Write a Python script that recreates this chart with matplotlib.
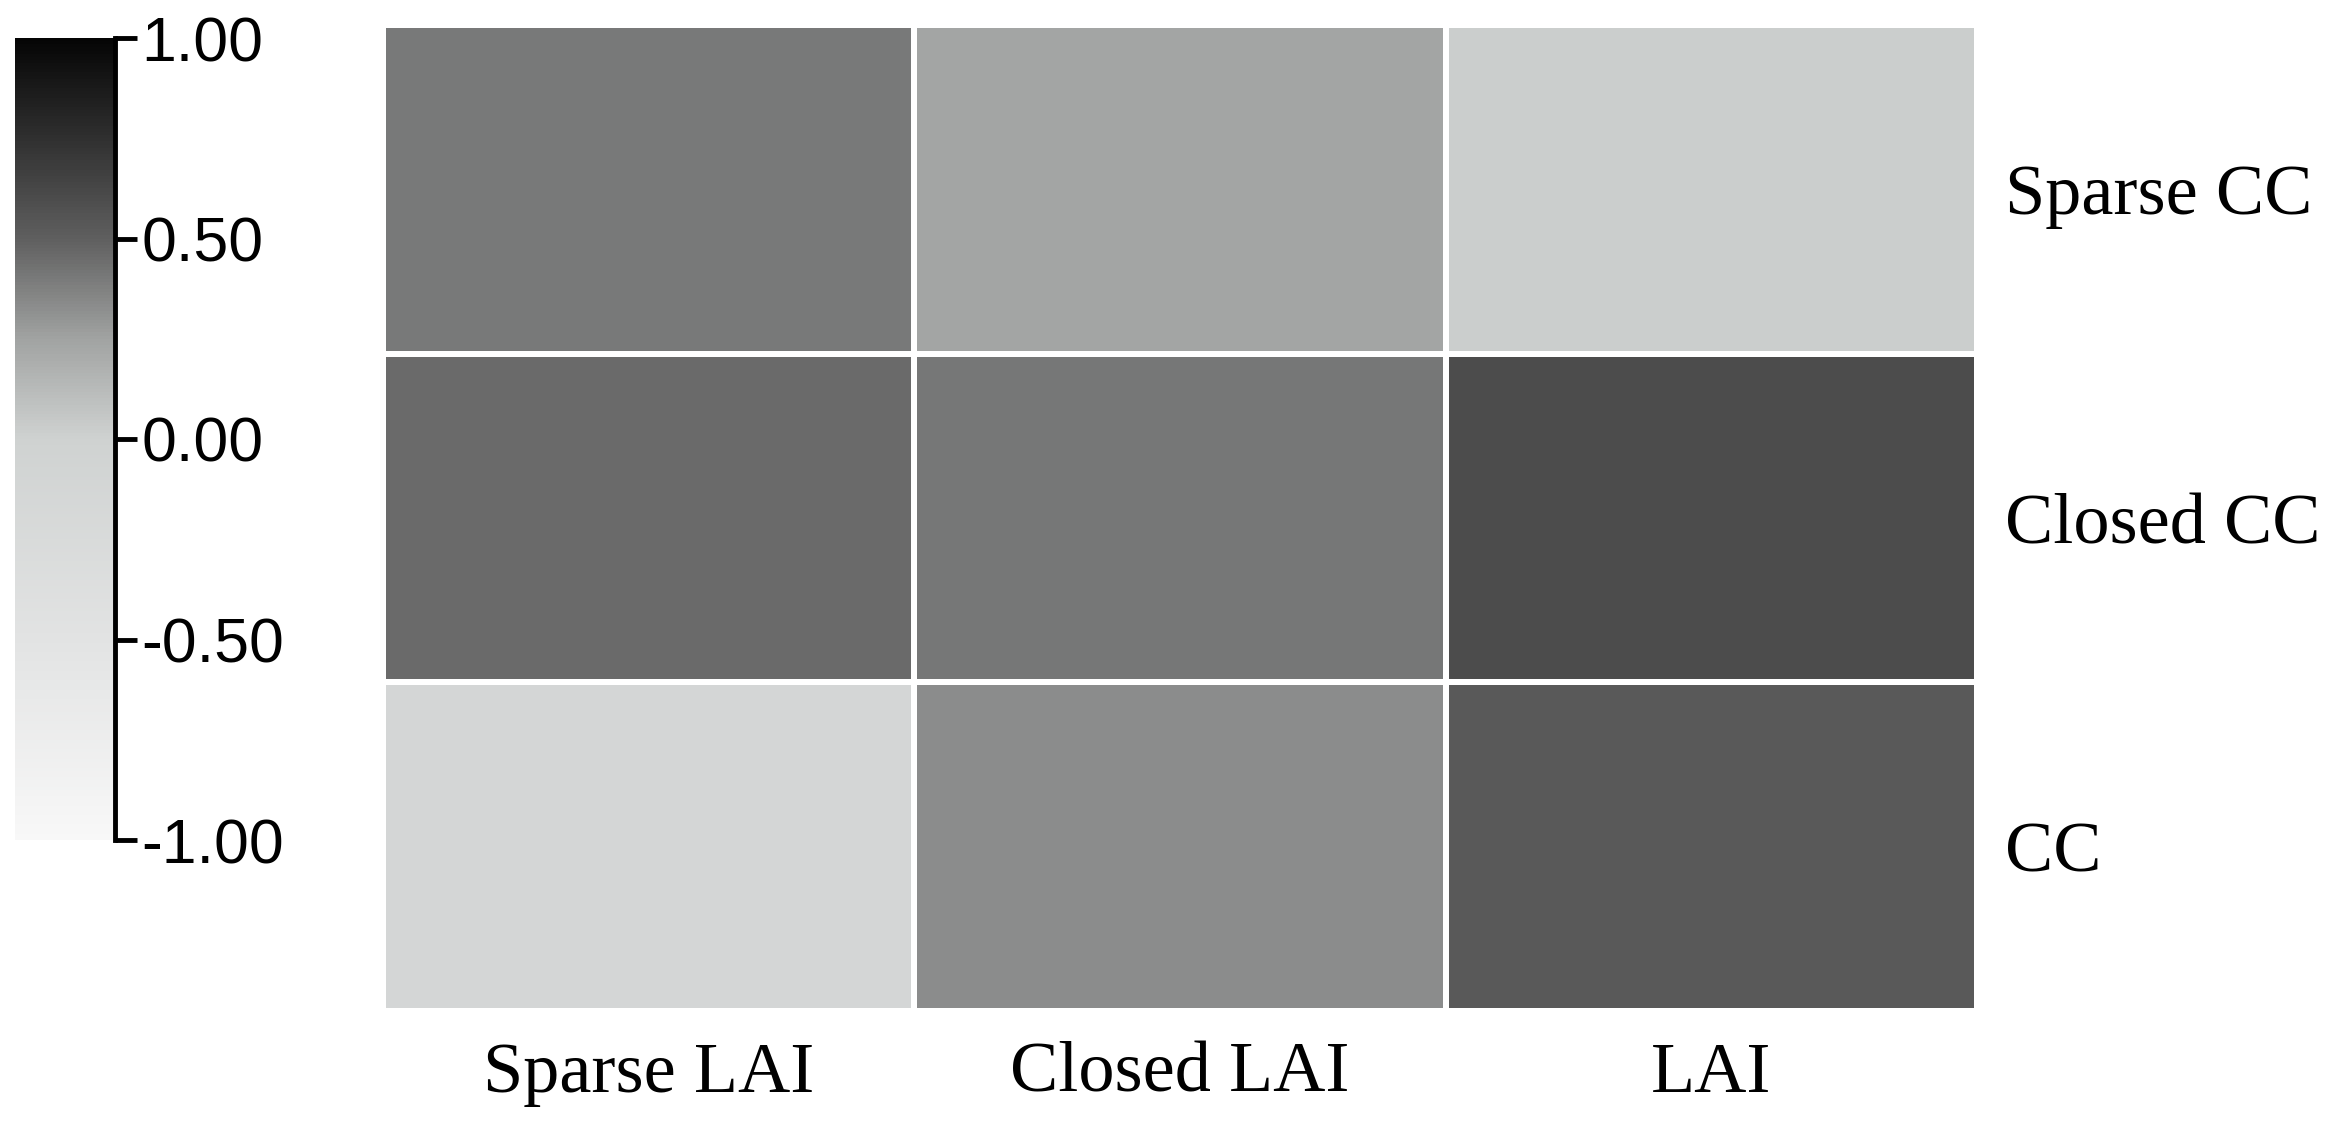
import numpy as np
import matplotlib.pyplot as plt
from matplotlib.colors import LinearSegmentedColormap

# heatmap values
row_labels = ['Sparse CC', 'Closed CC', 'CC']
col_labels = ['Sparse LAI', 'Closed LAI', 'LAI']
sparse_cc = [0.40, 0.24, 0.02]
closed_cc = [0.46, 0.41, 0.60]
cc = [-0.13, 0.33, 0.53]
cbar_ticks = [-1.0, -0.5, 0.0, 0.5, 1.0]

# grey colormap, light at -1, black at +1
cmap = LinearSegmentedColormap.from_list('greys_cc', [
    (0.000, '#f8f8f8'),
    (0.250, '#e2e3e3'),
    (0.500, '#cfd2d1'),
    (0.625, '#a1a3a2'),
    (0.750, '#5f5f5f'),
    (0.875, '#303030'),
    (1.000, '#050505'),
])

W, H = 2334, 1130
fig = plt.figure(figsize=(W / 100, H / 100), dpi=100)

# main heatmap
ax = fig.add_axes([383 / W, 1 - 1011 / H, (1977 - 383) / W, (1011 - 25) / H])
data = np.array([sparse_cc, closed_cc, cc])
mesh = ax.pcolormesh(data, cmap=cmap, vmin=-1, vmax=1,
                     edgecolors='white', linewidth=3)
ax.set_xlim(0, 3)
ax.set_ylim(3, 0)
ax.set_xticks(np.arange(3) + 0.5)
ax.set_xticklabels(col_labels, fontsize=52, family='Liberation Serif')
ax.set_yticks(np.arange(3) + 0.5)
ax.set_yticklabels(row_labels, fontsize=52, family='Liberation Serif')
ax.yaxis.tick_right()
ax.tick_params(length=0)
ax.tick_params(axis='y', pad=20)
ax.tick_params(axis='x', pad=22)
for lbl in ax.get_yticklabels():
    lbl.set_va('center_baseline')
for s in ax.spines.values():
    s.set_visible(False)

# colour bar on the left
cax = fig.add_axes([15 / W, 1 - 840 / H, (115 - 15) / W, (840 - 38) / H])
cb = fig.colorbar(mesh, cax=cax, ticks=cbar_ticks)
cb.outline.set_visible(False)
cax.spines['right'].set_visible(True)
cax.spines['right'].set_linewidth(3.5)
cax.set_yticklabels(['%.2f' % t for t in cbar_ticks], fontsize=45,
                    family='Liberation Sans')
cax.tick_params(axis='y', length=16, width=3.5, pad=3)

fig.savefig('out.png', dpi=100, facecolor='white')
